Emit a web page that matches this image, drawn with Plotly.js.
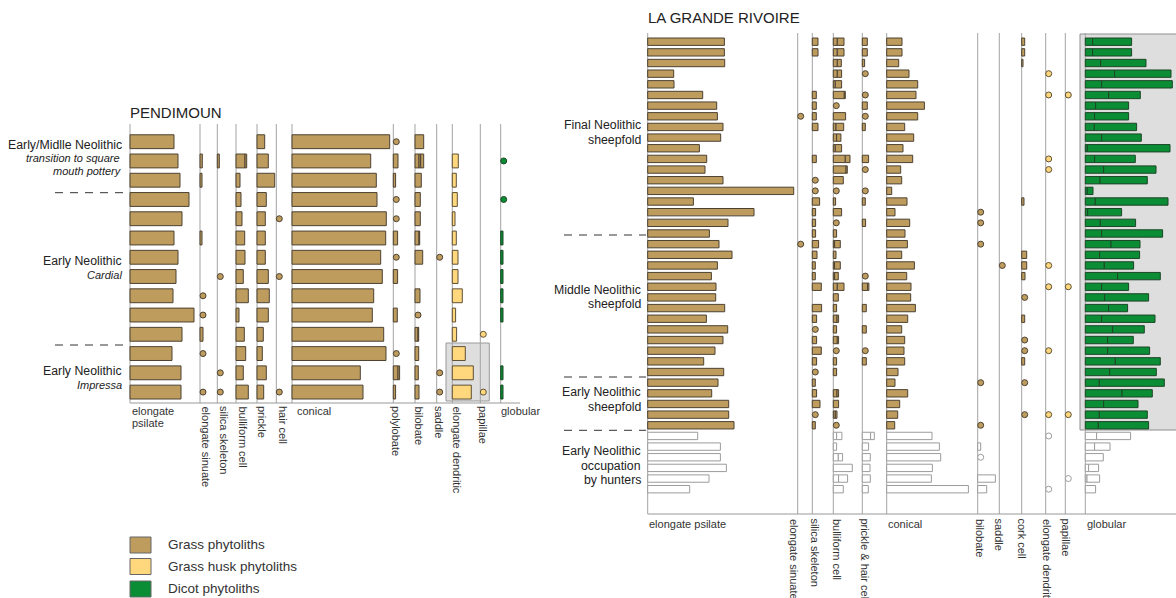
<!DOCTYPE html>
<html><head><meta charset="utf-8">
<script src="https://cdn.plot.ly/plotly-3.0.1.min.js"></script>
<style>html,body{margin:0;padding:0;background:#fff}#chart{width:1176px;height:598px}</style>
</head><body><div id="chart"></div>
<script>
// ================= DATA (bar lengths; 'o' = trace, shown as a dot; [a,b] = two stacked sub-counts) =================
// ---------- PENDIMOUN : 14 samples, top to bottom ----------
const pCategories = ['elongate psilate','elongate sinuate','silica skeleton','bulliform cell','prickle','hair cell','conical','polylobate','bilobate','saddle','elongate dendritic','papillae','globular'];
const pElongatePsilate   = [44,48,50,59,52,44,48,46,43,64,52,42,51,51];
const pElongateSinuate   = [null,2.3,2,null,null,2,null,null,'o','o',3,'o',null,'o'];
const pSilicaSkeleton    = [null,2,null,null,null,null,null,'o',null,null,null,null,'o','o'];
const pBulliformCell     = [null,[9,1.7],4,5,6,8.7,9,7.3,12.3,3,8.3,9.7,7.3,12.3];
const pPrickle           = [7.7,11.3,17.7,9.3,8.3,8.3,8.3,11.3,12.3,11.3,6.3,5.3,9.3,6.7];
const pHairCell          = [null,null,null,null,'o',null,null,'o',null,null,null,null,null,'o'];
const pConical           = [97.7,78.7,84.3,85,94.3,93.7,88.7,90.3,81.7,80.3,91.7,94,68.3,71];
const pPolylobate        = ['o',4.7,2.3,'o','o',4.3,'o',4.3,null,4,null,'o',[4.7,1.6],2.3];
const pBilobate          = [8.7,[4,1.7,3],6.3,5.3,5.3,[4,0.7],7.7,null,5,'o',[3,0.7],3.7,3.3,4];
const pSaddle            = [null,null,null,null,null,null,'o',null,null,null,null,null,'o','o'];
const pElongateDendritic = [null,6,4,5,2.7,4,5.7,5.7,10,3.3,4.3,13,21,19];
const pPapillae          = [null,null,null,null,null,null,null,null,null,null,'o',null,null,'o'];
const pGlobular          = [null,'o',null,'o',null,2.3,2.3,2.3,2.3,2.3,null,null,2.3,2.3];
const pGroups = [
  {lines:[['Early/Midlle Neolithic',false],['transition to square ',true],['mouth pottery',true]]},
  {lines:[['Early Neolithic',false],['Cardial',true]]},
  {lines:[['Early Neolithic',false],['Impressa',true]]}
];

// ---------- LA GRANDE RIVOIRE : 43 samples, top to bottom (last 6 = hunters' occupation) ----------
const rCategories = ['elongate psilate','elongate sinuate','silica skeleton','bulliform cell','prickle & hair cell','conical','bilobate','saddle','cork cell','elongate dendritic','papillae','globular'];
const rElongatePsilate = [76.7,76.7,77,26,26.3,55,69,69.7,75.3,73, 51.7,59,57.3,75.3,146,45.7,106.3,80.3,61.7,71.3,
  84.3,69.7,63.7,68.3,68,77,58.7,80,75.3,67.3, 56,76,70.3,64,81,81,86.3, 50,72.7,72.7,78.7,61.3,42];
const rElongateSinuate = [null,null,null,null,null,null,null,'o',null,null, null,null,null,null,null,null,null,null,null,'o',
  null,null,null,null,null,null,null,null,null,null, null,null,null,null,null,null,null, null,null,null,null,null,null];
const rSilicaSkeleton = [5.7,5.7,null,null,null,4,4,4,5.7,null, null,4,null,'o','o',7.3,3.3,3.3,3.3,6.3,
  4.7,3,3,9,null,9.3,4.3,'o',4.3,9, 4.3,'o',3,4.3,7.7,'o',3, null,null,null,null,null,null];
const rBulliformCell = [[4,6.7],[4,6.7],[4,4],[4,4.3],[2,6.3],[11,1],'o',12.3,[2.7,7.7],[3.3,4.3],
  [2,6.3],[12,4.7],[12.7,1.3],10,'o',2.3,8.3,'o',3.3,[1.3,5.7],
  2.7,[1.3,5.7],[1.3,3.7],[4,6.7],5,3.3,[3.7,1.6],3.3,[4,1.3],'o',
  3.3,3.3,null,[3.7,1.6],5.3,[2,1.7],'o', [3.3,5.3],3.3,[5,4.3],19,[5.3,9],10];
const rPrickleHairCell = [5,5,2.3,'o',null,'o',5,'o',3,null, null,6.3,'o',null,'o',3,null,3.3,null,null,
  null,null,'o',[5.3,1.3],null,4,null,4,null,'o', 4,null,null,null,null,null,null, [8.3,3.7],6.3,8,7.7,8,6];
const rConical = [15.3,15.3,12,22.3,31,29.3,37.7,31,18,27, 16.3,26,14,15,5,20.3,8.3,23,18.3,20.7,
  15,27.7,20,24.3,24,28.7,21,15,18,17.3, 18,11.3,8.3,21,13,11,8, 45.3,52.7,54,45.7,44.7,81.7];
const rBilobate = [null,null,null,null,null,null,null,null,null,null, null,null,null,null,null,null,'o','o',null,'o',
  null,null,null,null,null,null,null,null,null,null, null,null,'o',null,null,null,'o', null,3,'o',null,17.7,9];
const rSaddle = [null,null,null,null,null,null,null,null,null,null, null,null,null,null,null,null,null,null,null,null,
  null,'o',null,null,null,null,null,null,null,null, null,null,null,null,null,null,null, null,null,null,null,null,null];
const rCorkCell = [3,3,1.3,null,null,null,null,null,null,null, null,null,null,null,null,2.3,null,null,null,null,
  5,5,3.3,null,'o',null,3,null,'o','o', 3,null,'o',null,null,'o',null, null,null,null,null,null,null];
const rElongateDendritic = [null,null,null,'o',null,'o',null,null,null,null, null,'o','o',null,null,null,null,null,null,null,
  null,'o',null,'o',null,null,null,null,null,'o', null,null,null,null,null,'o',null, 'o',null,null,null,null,'o'];
const rPapillae = [null,null,null,null,null,'o',null,null,null,null, null,null,null,null,null,null,null,null,null,null,
  null,null,null,'o',null,null,null,null,null,null, null,null,null,null,null,'o',null, null,null,null,null,'o',null];
const rGlobular = [[7.3,39],[7.3,39],[15.3,45.4],[29.3,56.4],[16.3,70.7],[23.3,31.7],[10.3,33],[9.3,34],[9,42.3],[16.3,39.7],
  [2,82.7],[9.3,40.7],[18.3,52.4],[14.7,47.3],[2,5.7],[10,72.7],[2.3,34],[15,35.3],[16.3,61],[25.7,29],
  [14.3,40],[19,29.3],[32.3,42.7],[16.3,27],[19.3,44],[23.3,19],[16.3,53.4],[27.3,31.7],[22.3,25.7],[22.3,42],
  [30,45],[24.3,46.7],[14,65],[36.7,30.3],[18.3,34.4],[14,48],[13,50.3],
  [11.3,34],[9.3,15.4],18,[3.3,10],[1.7,12.6],10.3];
const rHuntersFrom = 38;
const rGroups = [
  {lines:['Final Neolithic','sheepfold']},
  {lines:['Middle Neolithic','sheepfold']},
  {lines:['Early Neolithic','sheepfold']},
  {lines:['Early Neolithic','occupation','by hunters']}
];
const legendLabels = ['Grass phytoliths','Grass husk phytoliths','Dicot phytoliths'];

// ================= LAYOUT / STYLE =================
const W = 1176, H = 598;
const FONT = 'Liberation Sans, Arial, Helvetica, sans-serif';
const yp = p => 1 - p / H;
const COL = {
  grass: {fill:'#bd9c5e', line:'#4d4232'},
  husk:  {fill:'#ffd77c', line:'#5e5136'},
  dicot: {fill:'#0b8d35', line:'#1c4626'},
  open:  {fill:'#ffffff', line:'#9c9c9c'}
};
const LINE = '#a3a3a3';

// panel geometry (pixels)
const PG = {row1:141.7, dy:19.26, top:124, bottom:403, barW:0.72, axisX0:130, axisX1:520};
const RG = {row1:41.7,  dy:10.655, top:33, bottom:514, barW:0.69, axisX0:647.7, axisX1:1176};
function yRange(g){ const a = 1 - g.row1/g.dy; return [a + H/g.dy, a]; }

const pColumns = [
  [pElongatePsilate,130,'grass'],[pElongateSinuate,200,'grass'],[pSilicaSkeleton,217.3,'grass'],
  [pBulliformCell,236,'grass'],[pPrickle,257,'grass'],[pHairCell,276.3,'grass'],[pConical,292,'grass'],
  [pPolylobate,393.3,'grass'],[pBilobate,415,'grass'],[pSaddle,436.7,'grass'],
  [pElongateDendritic,452.3,'husk'],[pPapillae,480.3,'husk'],[pGlobular,500.7,'dicot']
];
const rColumns = [
  [rElongatePsilate,647.7,'grass'],[rElongateSinuate,797.7,'grass'],[rSilicaSkeleton,812.3,'grass'],
  [rBulliformCell,833.3,'grass'],[rPrickleHairCell,862.3,'grass'],[rConical,886.7,'grass'],
  [rBilobate,977.7,'grass'],[rSaddle,999.3,'grass'],[rCorkCell,1021.7,'grass'],
  [rElongateDendritic,1045.7,'husk'],[rPapillae,1065.3,'husk'],[rGlobular,1085.3,'dicot']
];

const traces = [];
function addColumn(vals, base, kind, axis, barW, openFrom){
  const bx=[],by=[],bb=[],bf=[],bl=[], cx=[],cy=[],cf=[],cl=[];
  vals.forEach((v,i)=>{
    if (v===null || v===undefined) return;
    const row = i+1;
    const st = (openFrom && row>=openFrom) ? COL.open : COL[kind];
    if (v==='o'){ cx.push(base+3); cy.push(row); cf.push(st.fill); cl.push(st.line); return; }
    const segs = Array.isArray(v) ? v : [v];
    let acc = base;
    segs.forEach(s=>{ bx.push(s); by.push(row); bb.push(acc); bf.push(st.fill); bl.push(st.line); acc += s; });
  });
  if (bx.length) traces.push({type:'bar', orientation:'h', x:bx, y:by, base:bb, width:barW, xaxis:'x', yaxis:axis,
    marker:{color:bf, line:{color:bl, width:1}}, hoverinfo:'skip', showlegend:false});
  if (cx.length) traces.push({type:'scatter', mode:'markers', x:cx, y:cy, xaxis:'x', yaxis:axis, cliponaxis:false,
    marker:{size:6, color:cf, line:{color:cl, width:1}}, hoverinfo:'skip', showlegend:false});
}
pColumns.forEach(c=>addColumn(c[0],c[1],c[2],'y',PG.barW,null));
rColumns.forEach(c=>addColumn(c[0],c[1],c[2],'y2',RG.barW,rHuntersFrom));

// ---- shapes ----
const shapes = [];
// grey highlight boxes
shapes.push({type:'rect', xref:'x', yref:'paper', x0:446, x1:489.3, y0:yp(343), y1:yp(401), fillcolor:'#dedede', line:{color:'#9a9a9a', width:1}, layer:'below'});
shapes.push({type:'rect', xref:'x', yref:'paper', x0:1080, x1:1180, y0:yp(34), y1:yp(430), fillcolor:'#dedede', line:{color:'#8f8f8f', width:1}, layer:'below'});
// vertical base lines
pColumns.forEach(c=>shapes.push({type:'line', xref:'x', yref:'paper', x0:c[1], x1:c[1], y0:yp(PG.top), y1:yp(PG.bottom), line:{color:LINE, width:1}, layer:'below'}));
rColumns.forEach(c=>shapes.push({type:'line', xref:'x', yref:'paper', x0:c[1], x1:c[1], y0:yp(RG.top), y1:yp(RG.bottom), line:{color:LINE, width:1}, layer:'below'}));
// bottom axis lines
shapes.push({type:'line', xref:'x', yref:'paper', x0:PG.axisX0, x1:PG.axisX1, y0:yp(PG.bottom), y1:yp(PG.bottom), line:{color:'#999', width:1.2}});
shapes.push({type:'line', xref:'x', yref:'paper', x0:RG.axisX0, x1:RG.axisX1, y0:yp(RG.bottom), y1:yp(RG.bottom), line:{color:'#999', width:1.2}});
// dashed group separators
[192.7,345].forEach(p=>shapes.push({type:'line', xref:'x', yref:'paper', x0:55, x1:123, y0:yp(p), y1:yp(p), line:{color:'#333', width:1, dash:'8px,7px'}}));
[235,377,430.3].forEach(p=>shapes.push({type:'line', xref:'x', yref:'paper', x0:564, x1:646, y0:yp(p), y1:yp(p), line:{color:'#333', width:1, dash:'8px,7px'}}));
// legend swatches
const legendKinds = ['grass','husk','dicot'];
const legendTop = [537,558.5,581];
legendKinds.forEach((k,i)=>shapes.push({type:'rect', xref:'x', yref:'paper', x0:130, x1:151, y0:yp(legendTop[i]), y1:yp(legendTop[i]+16), fillcolor:COL[k].fill, line:{color:'#666', width:1}}));

// ---- annotations ----
const ann = [];
function txt(t,x,p,opt){ ann.push(Object.assign({text:t, x:x, xref:'x', y:yp(p), yref:'paper', showarrow:false, xanchor:'left', yanchor:'middle',
  font:{family:FONT, size:11, color:'#333'}, borderpad:0}, opt||{})); }
txt('PENDIMOUN',129,113,{font:{family:FONT,size:15,color:'#222'}});
txt('LA GRANDE RIVOIRE',647,18,{font:{family:FONT,size:15,color:'#222'}});
// left group labels
const pGroupY = [[145,158.3,171],[260.7,275],[371.3,385]];
pGroups.forEach((g,gi)=>g.lines.forEach((l,li)=>txt(l[1]?'<i>'+l[0]+'</i>':l[0], l[1]&&li===1&&gi===0?123.5:123, pGroupY[gi][li],
  {xanchor:'right', font:{family:FONT, size:l[1]?11:12.3, color:'#222'}})));
// right group labels
const rGroupY = [[125,139.5],[290,304.3],[392.3,406.5],[450.5,465.5,480]];
rGroups.forEach((g,gi)=>g.lines.forEach((l,li)=>txt(l, 642, rGroupY[gi][li], {xanchor:'right', font:{family:FONT,size:12.3,color:'#222'}})));
// left category labels
const pLabelX = [131,206,224,243,262,283,296,396,419,439,457,483,500];
pCategories.forEach((c,i)=>{
  if (c==='elongate psilate'){ txt('elongate',pLabelX[i],410.7); txt('psilate',pLabelX[i],423.3); }
  else if (c==='conical' || c==='globular') txt(c,pLabelX[i],410.7);
  else txt(c,pLabelX[i],405,{textangle:90, xanchor:'center', yanchor:'top'});
});
// right category labels
const rLabelX = [648,794,815,837,865.5,887,980,999,1022,1047,1066,1086];
rCategories.forEach((c,i)=>{
  if (c==='elongate psilate' || c==='conical' || c==='globular') txt(c,rLabelX[i],524.2);
  else txt(c,rLabelX[i],517.4,{textangle:90, xanchor:'center', yanchor:'top'});
});
// legend texts
legendLabels.forEach((l,i)=>txt(l,167,legendTop[i]+7.5,{font:{family:FONT,size:13.5,color:'#333'}}));

const layout = {
  width:W, height:H, margin:{l:0,r:0,t:0,b:0,pad:0},
  paper_bgcolor:'#fff', plot_bgcolor:'rgba(0,0,0,0)',
  font:{family:FONT}, barmode:'overlay', showlegend:false,
  xaxis:{range:[0,W], visible:false, fixedrange:true},
  yaxis:{range:yRange(PG), visible:false, fixedrange:true},
  yaxis2:{range:yRange(RG), visible:false, fixedrange:true, overlaying:'y'},
  shapes:shapes, annotations:ann
};
Plotly.newPlot('chart', traces, layout, {staticPlot:true, displayModeBar:false});
</script></body></html>
